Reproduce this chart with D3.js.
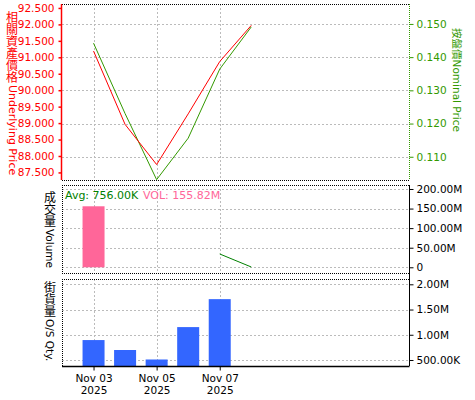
<!DOCTYPE html>
<html>
<head>
<meta charset="utf-8">
<script src="https://cdn.jsdelivr.net/npm/d3@7"></script>
<style>
  body { margin: 0; background: #fff; position: relative; }
  svg { display: block; }
  text { font-family: "DejaVu Sans", "Noto Sans CJK TC", sans-serif; }
  .cjkcol {
    position: absolute;
    word-break: break-all;
    text-align: center;
    font-family: "Noto Sans CJK TC", sans-serif;
  }
</style>
</head>
<body>
<svg></svg>
<script>
// data
const dates = ["2025-11-03", "2025-11-04", "2025-11-05", "2025-11-06", "2025-11-07", "2025-11-08"];
const underlying = [91.19, 88.96, 87.74, 89.28, 90.87, 91.97];
const nominal = [0.1442, 0.1230, 0.1031, 0.1156, 0.1364, 0.1491];

const volDates = ["2025-11-03"];
const volume = [155.82e6];
const avgDates = ["2025-11-07", "2025-11-08"];
const volAvg = [34e6, 0.756e6];

const osDates = ["2025-11-03", "2025-11-04", "2025-11-05", "2025-11-06", "2025-11-07"];
const osQty = [0.895e6, 0.698e6, 0.51e6, 1.152e6, 1.706e6];

const xTicks = ["2025-11-03", "2025-11-05", "2025-11-07"];
const leftTicks = [87.5, 88, 88.5, 89, 89.5, 90, 90.5, 91, 91.5, 92, 92.5];
const rightTicks = [0.11, 0.12, 0.13, 0.14, 0.15];
const volTicks = [0, 50e6, 100e6, 150e6, 200e6];
const osTicks = [0.5e6, 1e6, 1.5e6, 2e6];

const width = 475, height = 400;
const parse = d3.utcParse("%Y-%m-%d");
const L = 62, R = 409;

const RED = "#ff0000", GREEN = "#339900", DKGREEN = "#008000", PINK = "#ff6699", BLUE = "#3366ff", GRID = "#bbbbbb";

const svg = d3.select("svg")
    .attr("width", width)
    .attr("height", height);

const x = d3.scaleUtc()
    .domain([parse("2025-11-02"), parse("2025-11-13")])
    .range([L, R]);

// panels
const p1 = {top: 4, bottom: 180};
const p2 = {top: 185, bottom: 273};
const p3 = {top: 278.5, bottom: 366};

const yLeft = d3.scaleLinear().domain([87.27, 92.62]).range([p1.bottom, p1.top]);
const yRight = d3.scaleLinear().domain([0.103, 0.156]).range([p1.bottom, p1.top]);
const yVol = d3.scaleLinear().domain([-14.6e6, 210.2e6]).range([p2.bottom, p2.top]);
const yOs = d3.scaleLinear().domain([0.381e6, 2.115e6]).range([p3.bottom, p3.top]);

function fmtBig(v) {
    if (v === 0) return "0";
    if (v >= 1e6) return (v / 1e6).toFixed(2) + "M";
    return (v / 1e3).toFixed(2) + "K";
}

// grid helpers
function grid(p, yScale, ticks) {
    const g = svg.append("g")
        .attr("stroke", GRID)
        .attr("stroke-dasharray", "2,2")
        .attr("shape-rendering", "crispEdges");
    g.selectAll(".h").data(ticks).join("line")
        .attr("x1", L).attr("x2", R)
        .attr("y1", d => Math.round(yScale(d)) + 0.5)
        .attr("y2", d => Math.round(yScale(d)) + 0.5);
    g.selectAll(".v").data(xTicks).join("line")
        .attr("x1", d => Math.round(x(parse(d))) + 0.5)
        .attr("x2", d => Math.round(x(parse(d))) + 0.5)
        .attr("y1", p.top).attr("y2", p.bottom);
}

function dottedLine(x1, y1, x2, y2, color) {
    svg.append("line")
        .attr("x1", x1).attr("y1", y1).attr("x2", x2).attr("y2", y2)
        .attr("stroke", color || "#000")
        .attr("stroke-dasharray", "1,1")
        .attr("shape-rendering", "crispEdges");
}

// vertical title: CJK stacked one per line (narrow html column), latin turned clockwise
function vTitle(cx, y0, cjk, latin, cjkSize, latSize, color) {
    d3.select("body").append("div")
        .attr("class", "cjkcol")
        .style("left", (cx - cjkSize / 2) + "px")
        .style("top", y0 + "px")
        .style("width", cjkSize + "px")
        .style("font-size", cjkSize + "px")
        .style("line-height", cjkSize + "px")
        .style("color", color)
        .text(cjk);
    svg.append("text")
        .attr("transform", `translate(${cx},${y0 + cjk.length * cjkSize + 2}) rotate(90)`)
        .attr("dominant-baseline", "central")
        .attr("font-size", latSize)
        .attr("fill", color)
        .text(latin);
}

grid(p1, yRight, rightTicks);
grid(p2, yVol, volTicks);
grid(p3, yOs, osTicks);

/* ---- top panel ---- */
const lineL = d3.line()
    .x((d, i) => x(parse(dates[i])))
    .y(d => yLeft(d));
const lineR = d3.line()
    .x((d, i) => x(parse(dates[i])))
    .y(d => yRight(d));

svg.append("path").datum(nominal)
    .attr("d", lineR).attr("fill", "none").attr("stroke", GREEN).attr("stroke-width", 1);
svg.append("path").datum(underlying)
    .attr("d", lineL).attr("fill", "none").attr("stroke", RED).attr("stroke-width", 1);

dottedLine(L, p1.top + 0.5, R, p1.top + 0.5);
dottedLine(L, p1.bottom + 0.5, R, p1.bottom + 0.5);

const axL = svg.append("g")
    .attr("transform", `translate(${L - 0.5},0)`)
    .call(d3.axisLeft(yLeft).tickValues(leftTicks).tickFormat(d3.format(".3f")).tickSize(3).tickPadding(4));
axL.select(".domain").attr("d", `M0,${p1.top}V${p1.bottom}`);
axL.selectAll("line, path").attr("stroke", RED).attr("stroke-width", 1.5);
axL.selectAll("text").attr("fill", RED).attr("font-size", 10.5)
    .style("font-family", "DejaVu Sans");

const axR = svg.append("g")
    .attr("transform", `translate(${R + 0.5},0)`)
    .call(d3.axisRight(yRight).tickValues(rightTicks).tickFormat(d3.format(".3f")).tickSize(4).tickPadding(3));
axR.select(".domain").attr("d", `M0,${p1.top}V${p1.bottom}`).attr("stroke-dasharray", "1,1");
axR.selectAll("line, path").attr("stroke", GREEN);
axR.selectAll("text").attr("fill", GREEN).attr("font-size", 10.5)
    .style("font-family", "DejaVu Sans");

vTitle(12, 11, "相關資產價格", "Underlying Price", 12, 11, RED);

svg.append("text")
    .attr("transform", "translate(457,80) rotate(90)")
    .attr("text-anchor", "middle")
    .attr("dominant-baseline", "central")
    .attr("font-size", 10.5)
    .attr("fill", GREEN)
    .text("按盤價Nominal Price");

/* ---- volume panel ---- */
const barW = 22;
svg.append("g").selectAll("rect").data(volume).join("rect")
    .attr("x", (d, i) => x(parse(volDates[i])) - barW / 2)
    .attr("width", barW)
    .attr("y", d => yVol(d))
    .attr("height", d => yVol(0) - yVol(d))
    .attr("fill", PINK);

svg.append("path").datum(volAvg)
    .attr("d", d3.line().x((d, i) => x(parse(avgDates[i]))).y(d => yVol(d)))
    .attr("fill", "none").attr("stroke", DKGREEN);

dottedLine(L, p2.top + 0.5, R, p2.top + 0.5);
dottedLine(L, p2.bottom + 0.5, R, p2.bottom + 0.5);
dottedLine(L + 0.5, p2.top, L + 0.5, p2.bottom);

const axV = svg.append("g")
    .attr("transform", `translate(${R + 0.5},0)`)
    .call(d3.axisRight(yVol).tickValues(volTicks).tickFormat(fmtBig).tickSize(4).tickPadding(3));
axV.select(".domain").attr("d", `M0,${p2.top}V${p2.bottom + 4}`);
axV.selectAll("text").attr("font-size", 10.5).style("font-family", "DejaVu Sans");

svg.append("text").attr("x", 65).attr("y", 199)
    .attr("font-size", 11).attr("fill", DKGREEN).text("Avg: 756.00K");
svg.append("text").attr("x", 143).attr("y", 199)
    .attr("font-size", 11).attr("fill", PINK).text("VOL: 155.82M");

vTitle(50, 191, "成交量", "Volume", 12, 10.5, "#000");

/* ---- outstanding panel ---- */
svg.append("g").selectAll("rect").data(osQty).join("rect")
    .attr("x", (d, i) => x(parse(osDates[i])) - barW / 2)
    .attr("width", barW)
    .attr("y", d => yOs(d))
    .attr("height", d => p3.bottom - yOs(d))
    .attr("fill", BLUE);

dottedLine(L, p3.top + 0.5, R, p3.top + 0.5);
dottedLine(L + 0.5, p3.top, L + 0.5, p3.bottom);

const axO = svg.append("g")
    .attr("transform", `translate(${R + 0.5},0)`)
    .call(d3.axisRight(yOs).tickValues(osTicks).tickFormat(fmtBig).tickSize(4).tickPadding(3));
axO.select(".domain").attr("d", `M0,${p3.top - 4}V${p3.bottom}`);
axO.selectAll("text").attr("font-size", 10.5).style("font-family", "DejaVu Sans");

vTitle(50, 281, "街貨量", "O/S Qty.", 12, 10.5, "#000");

// x axis
const axX = svg.append("g")
    .attr("transform", `translate(0,${p3.bottom + 0.5})`)
    .call(d3.axisBottom(x).tickValues(xTicks.map(parse)).tickSize(4).tickFormat(""));
axX.select(".domain").attr("d", `M${L},0H${R + 0.5}`).attr("stroke-width", 1.5);
axX.selectAll(".tick").append("text")
    .attr("fill", "#000")
    .attr("text-anchor", "middle")
    .attr("font-size", 10.5)
    .call(t => t.append("tspan").attr("x", 0).attr("y", 15).text(d => d3.utcFormat("%b %d")(d)))
    .call(t => t.append("tspan").attr("x", 0).attr("y", 27).text(d => d3.utcFormat("%Y")(d)));
</script>
</body>
</html>
